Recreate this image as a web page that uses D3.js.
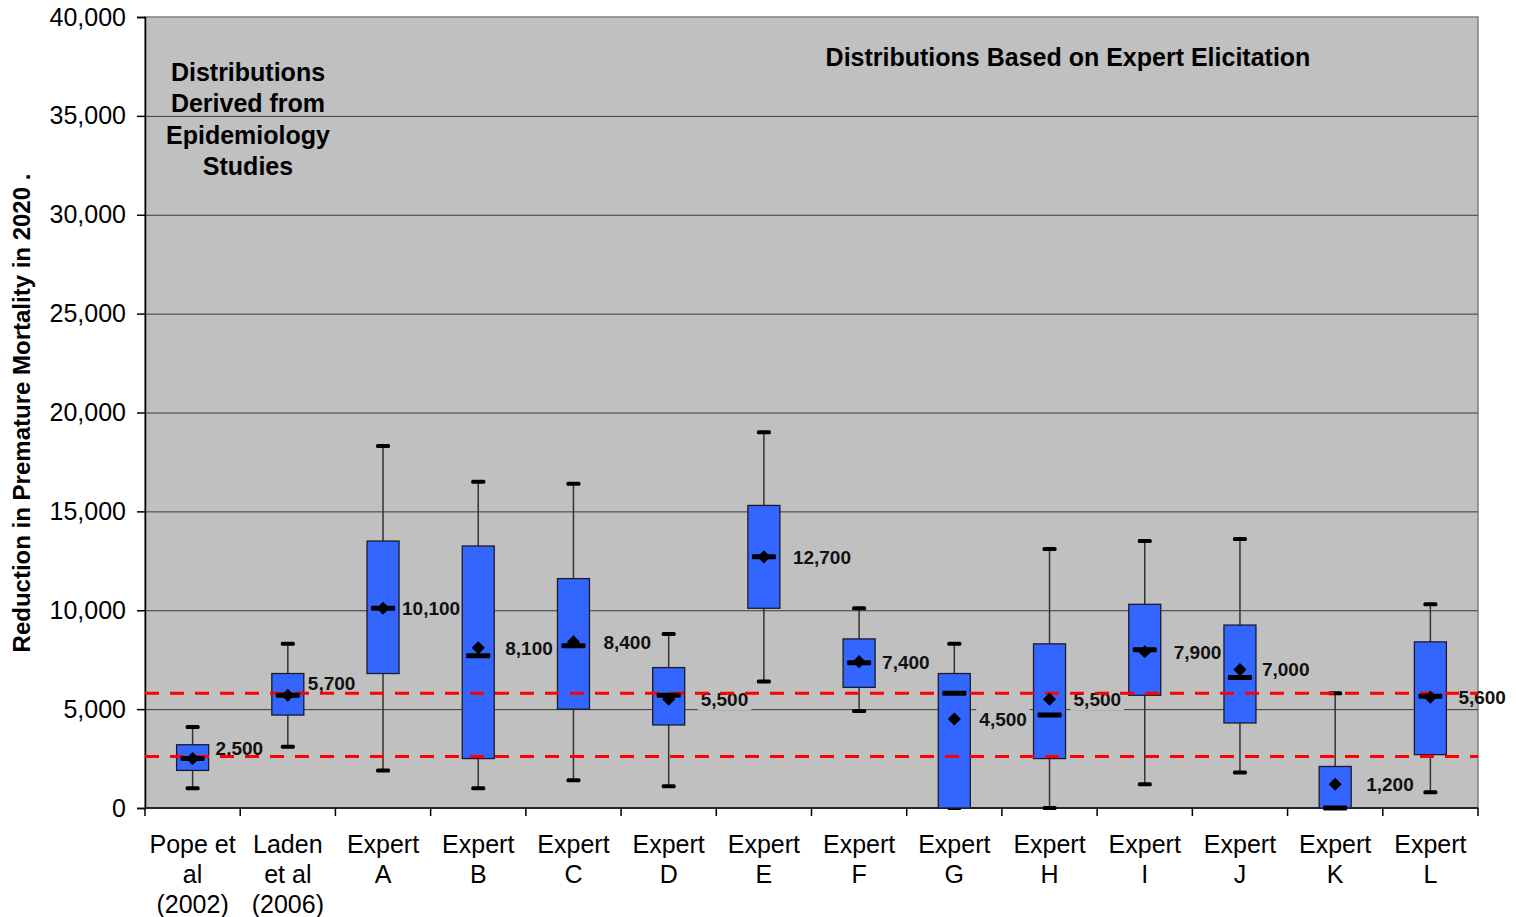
<!DOCTYPE html>
<html>
<head>
<meta charset="utf-8">
<script src="https://cdn.jsdelivr.net/npm/d3@7"></script>
<style>
  html, body { margin: 0; padding: 0; background: #ffffff; }
  svg { display: block; font-family: Arial, "Liberation Sans", sans-serif; }
</style>
</head>
<body>
<svg id="chart" width="1516" height="917"></svg>
<script>
// Categories (multi-line axis labels)
const categories = [
  ["Pope et", "al", "(2002)"],
  ["Laden", "et al", "(2006)"],
  ["Expert", "A"], ["Expert", "B"], ["Expert", "C"], ["Expert", "D"],
  ["Expert", "E"], ["Expert", "F"], ["Expert", "G"], ["Expert", "H"],
  ["Expert", "I"], ["Expert", "J"], ["Expert", "K"], ["Expert", "L"]
];

// Box statistics per category
const whiskerLow  = [1000, 3100, 1900, 1000, 1400, 1100, 6400, 4900,    0,    0, 1200, 1800,    0,  800];
const boxLow      = [1900, 4700, 6800, 2500, 5000, 4200,10100, 6100,    0, 2500, 5700, 4300,    0, 2700];
const medians     = [2500, 5700,10100, 7700, 8200, 5700,12700, 7350, 5800, 4700, 8000, 6600,    0, 5650];
const boxHigh     = [3200, 6800,13500,13250,11600, 7100,15300, 8550, 6800, 8300,10300, 9250, 2100, 8400];
const whiskerHigh = [4100, 8300,18300,16500,16400, 8800,19000,10100, 8300,13100,13500,13600, 5800,10300];
const means       = [2500, 5700,10100, 8100, 8400, 5500,12700, 7400, 4500, 5500, 7900, 7000, 1200, 5600];

// Reference lines (dashed red)
const refLines = [5800, 2600];

// Y axis ticks
const yTicks = [0, 5000, 10000, 15000, 20000, 25000, 30000, 35000, 40000];

// Vertical nudge (px) for value labels that would sit on a reference line
const labelShift = [-10, -12, 0, 0, 0, 0, 0, 0, 0, 0, 0, 0, 0, 0];
// Gap (px) between box edge and its value label
const labelGap = [7, 4, 3, 11, 14, 16, 13, 7, 9, 8, 13, 6, 15, 12];

const svg = d3.select("#chart");
const margin = { left: 145, right: 38, top: 17, bottom: 109 };
const W = 1516, H = 917;
const innerW = W - margin.left - margin.right;
const innerH = H - margin.top - margin.bottom;

const x = d3.scaleBand().domain(d3.range(categories.length)).range([0, innerW]).padding(0);
const y = d3.scaleLinear().domain([0, 40000]).range([innerH, 0]);

const g = svg.append("g").attr("transform", `translate(${margin.left},${margin.top})`);

// Plot background
g.append("rect").attr("x", 0).attr("y", 0).attr("width", innerW).attr("height", innerH)
  .attr("fill", "#c0c0c0").attr("stroke", "#808080").attr("stroke-width", 1.5);

// Gridlines
g.append("g").selectAll("line").data(yTicks.filter(t => t > 0 && t < 40000)).join("line")
  .attr("x1", 0).attr("x2", innerW)
  .attr("y1", d => y(d) + 0.5).attr("y2", d => y(d) + 0.5)
  .attr("stroke", "#3a3a3a").attr("stroke-width", 1);

// Y axis
const yAxis = g.append("g").call(d3.axisLeft(y).tickValues(yTicks).tickSize(8).tickPadding(11).tickFormat(d3.format(",")));
yAxis.select(".domain").attr("stroke", "#000").attr("stroke-width", 1.5);
yAxis.selectAll(".tick line").attr("stroke", "#000").attr("stroke-width", 1.5);
yAxis.selectAll(".tick text").attr("font-size", 25).attr("fill", "#000")
  .attr("font-family", "Arial, 'Liberation Sans', sans-serif");

// X axis with ticks at category boundaries
const xAxisG = g.append("g").attr("transform", `translate(0,${innerH})`);
xAxisG.append("line").attr("x1", 0).attr("x2", innerW).attr("y1", 0).attr("y2", 0)
  .attr("stroke", "#000").attr("stroke-width", 1.5);
xAxisG.selectAll("line.tk").data(d3.range(categories.length + 1)).join("line")
  .attr("class", "tk")
  .attr("x1", d => d * x.bandwidth()).attr("x2", d => d * x.bandwidth())
  .attr("y1", 0).attr("y2", 8).attr("stroke", "#000").attr("stroke-width", 1.5);
const xl = xAxisG.selectAll("text.cat").data(categories).join("text")
  .attr("class", "cat")
  .attr("x", (d, i) => x(i) + x.bandwidth() / 2)
  .attr("y", 45)
  .attr("text-anchor", "middle").attr("font-size", 25).attr("fill", "#000");
xl.each(function(d) {
  const t = d3.select(this);
  d.forEach((line, k) => {
    t.append("tspan").attr("x", t.attr("x")).attr("dy", k === 0 ? 0 : 30).text(line);
  });
});

const boxW = 32;
const cx = i => x(i) + x.bandwidth() / 2;

// Value labels with plot-coloured backgrounds (kept inside the plot area)
const labels = g.append("g");
means.forEach((m, i) => {
  const lx = cx(i) + boxW / 2 + labelGap[i];
  const ly = y(m) + labelShift[i];
  const txt = labels.append("text").attr("x", lx).attr("y", ly).attr("dy", "0.36em")
    .attr("font-size", 19).attr("font-weight", "bold").attr("fill", "#111")
    .text(d3.format(",")(m));
  const bb = txt.node().getBBox();
  const x0 = bb.x - 3, x1 = Math.min(innerW - 1, bb.x + bb.width + 3);
  labels.insert("rect", "text").attr("x", x0).attr("y", bb.y)
    .attr("width", Math.max(0, x1 - x0)).attr("height", bb.height).attr("fill", "#c0c0c0");
});

// Boxes
const boxes = g.append("g");
categories.forEach((c, i) => {
  const xc = cx(i);
  // whisker
  boxes.append("line").attr("x1", xc).attr("x2", xc)
    .attr("y1", y(whiskerHigh[i])).attr("y2", y(whiskerLow[i]))
    .attr("stroke", "#333").attr("stroke-width", 1.5);
  // caps
  [whiskerHigh[i], whiskerLow[i]].forEach(v => {
    boxes.append("rect").attr("x", xc - 7).attr("y", y(v) - 2).attr("width", 14).attr("height", 4)
      .attr("rx", 1.5).attr("fill", "#000");
  });
  // box
  boxes.append("rect").attr("x", xc - boxW / 2).attr("y", y(boxHigh[i]))
    .attr("width", boxW).attr("height", Math.max(0, y(boxLow[i]) - y(boxHigh[i])))
    .attr("fill", "#3366ff").attr("stroke", "#1a1a2a").attr("stroke-width", 1.3);
});

// Reference lines
g.append("g").selectAll("line").data(refLines).join("line")
  .attr("x1", 0).attr("x2", innerW)
  .attr("y1", d => y(d)).attr("y2", d => y(d))
  .attr("stroke", "#ff0000").attr("stroke-width", 3).attr("stroke-dasharray", "14,11");

// Medians and means
const marks = g.append("g");
categories.forEach((c, i) => {
  const xc = cx(i);
  marks.append("rect").attr("x", xc - 12).attr("y", y(medians[i]) - 2.5).attr("width", 24).attr("height", 5)
    .attr("rx", 1).attr("fill", "#000");
  marks.append("path")
    .attr("d", d3.symbol().type(d3.symbolDiamond2).size(110)())
    .attr("transform", `translate(${xc},${y(means[i])})`)
    .attr("fill", "#000");
});

// Annotations
const ann = g.append("g").attr("font-weight", "bold").attr("font-size", 25).attr("fill", "#000")
  .attr("text-anchor", "middle");
["Distributions", "Derived from", "Epidemiology", "Studies"].forEach((t, k) => {
  ann.append("text").attr("x", 103).attr("y", 64 + k * 31.3).text(t);
});
ann.append("text").attr("x", 923).attr("y", 49).text("Distributions Based on Expert Elicitation");

// Y axis title
svg.append("text")
  .attr("transform", `translate(30,${413}) rotate(-90)`)
  .attr("text-anchor", "middle").attr("font-weight", "bold").attr("font-size", 24).attr("fill", "#000")
  .text("Reduction in Premature Mortality in 2020 .");
</script>
</body>
</html>
